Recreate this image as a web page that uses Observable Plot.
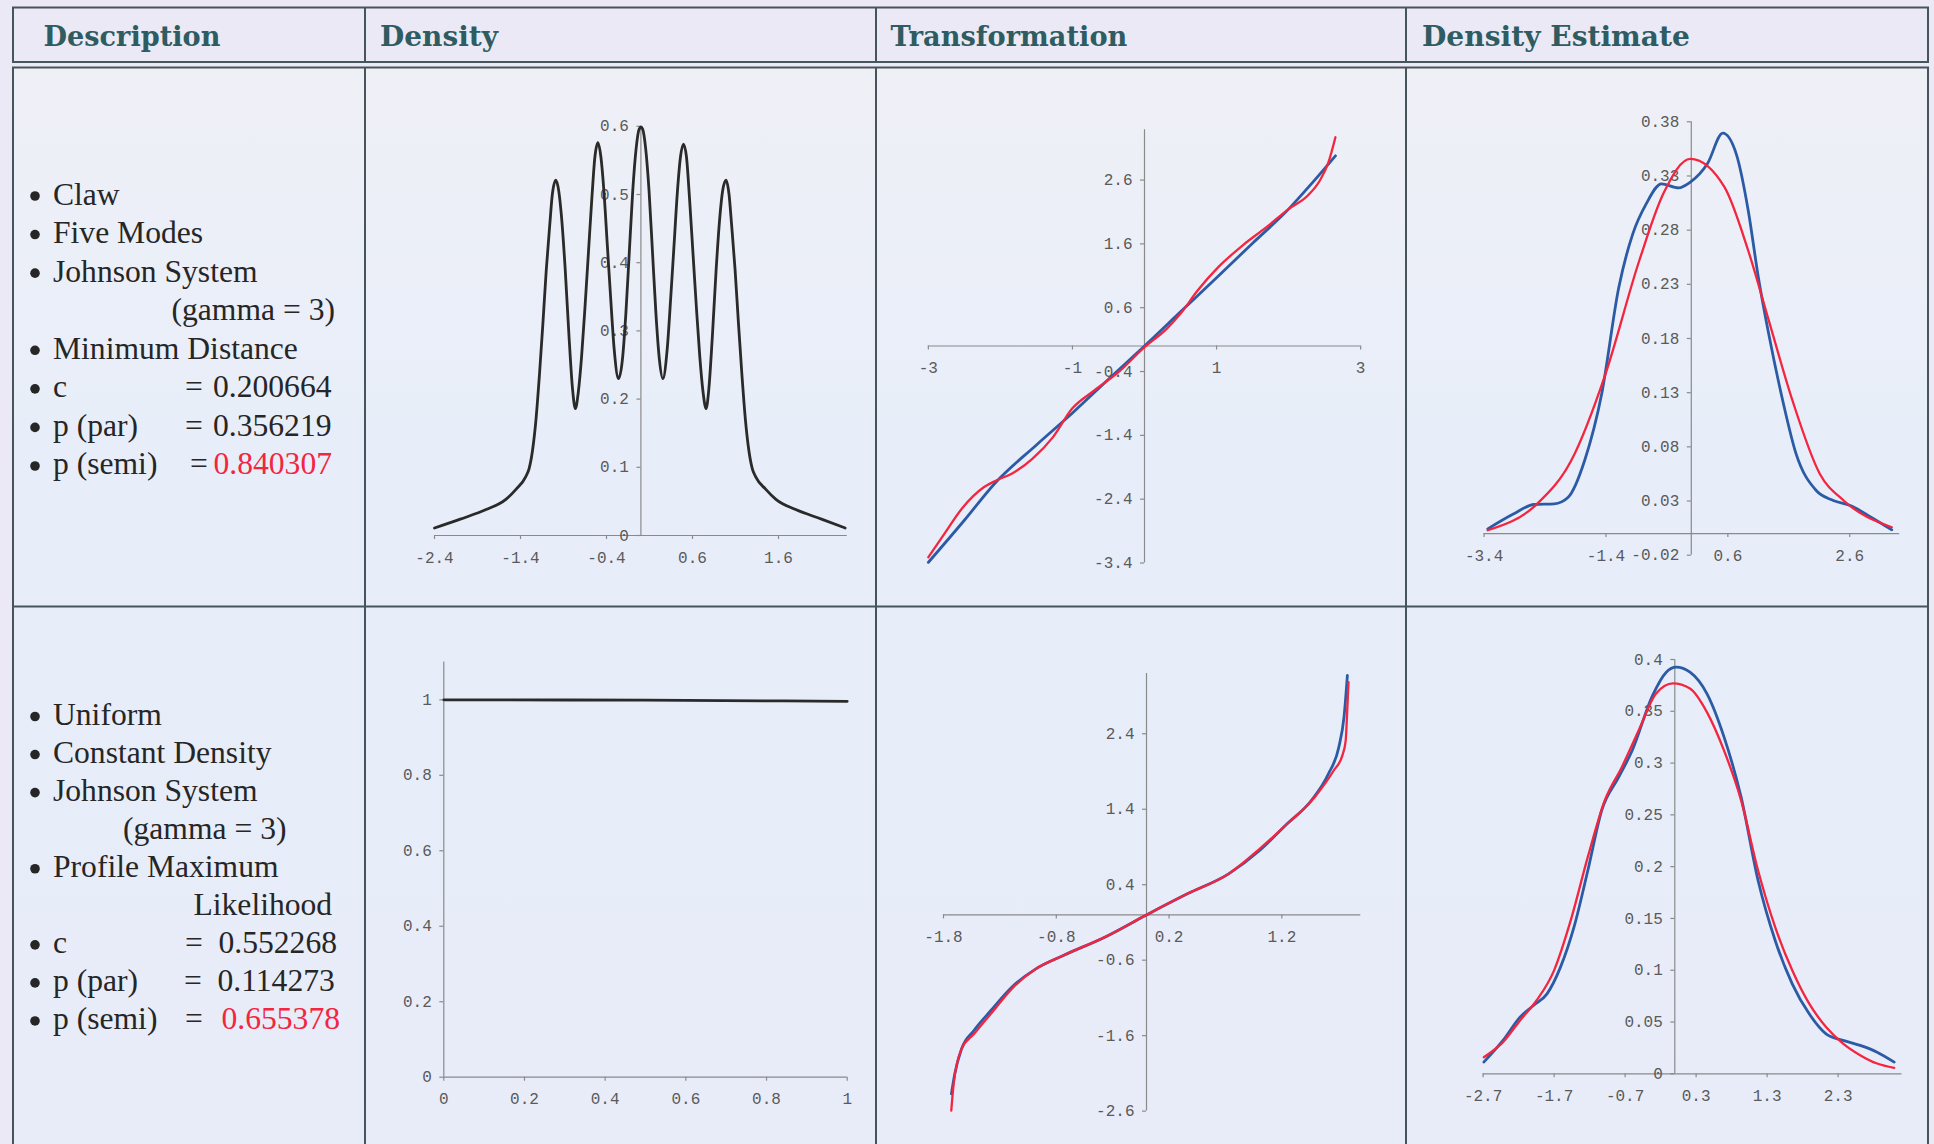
<!DOCTYPE html>
<html>
<head>
<meta charset="utf-8">
<script src="https://cdn.jsdelivr.net/npm/d3@7"></script>
<script src="https://cdn.jsdelivr.net/npm/@observablehq/plot@0.6"></script>
<style>
  html, body { margin: 0; padding: 0; }
  body { width: 1934px; height: 1144px; overflow: hidden; position: relative; background: #ebe9f5; }
  .cell { position: absolute; }
</style>
</head>
<body>
<script>
// ---------------- DATA ----------------
const headers = ["Description", "Density", "Transformation", "Density Estimate"];

const descLabels1 = ["Claw", "Five Modes", "Johnson System", "(gamma = 3)", "Minimum Distance", "c", "p (par)", "p (semi)"];
const descValues1 = ["0.200664", "0.356219", "0.840307"];
const descLabels2 = ["Uniform", "Constant Density", "Johnson System", "(gamma = 3)", "Profile Maximum", "Likelihood", "c", "p (par)", "p (semi)"];
const descValues2 = ["0.552268", "0.114273", "0.655378"];

// Row 1 – Claw density (x, density)
const clawDensity = [
  [-2.40,0.011],[-2.10,0.024],[-1.80,0.038],[-1.57,0.053],[-1.45,0.068],[-1.34,0.086],[-1.30,0.098],
  [-1.26,0.125],[-1.22,0.170],[-1.18,0.235],[-1.14,0.310],[-1.10,0.390],[-1.06,0.455],[-1.03,0.500],
  [-0.99,0.521],[-0.955,0.505],[-0.925,0.470],[-0.88,0.390],[-0.835,0.290],[-0.795,0.215],[-0.762,0.186],
  [-0.728,0.210],[-0.69,0.262],[-0.65,0.335],[-0.61,0.415],[-0.57,0.495],[-0.535,0.555],[-0.50,0.576],
  [-0.465,0.555],[-0.43,0.505],[-0.39,0.425],[-0.35,0.345],[-0.31,0.272],[-0.26,0.230],[-0.215,0.258],
  [-0.175,0.325],[-0.135,0.415],[-0.095,0.505],[-0.055,0.568],[-0.02,0.596],[0.0,0.599],[0.02,0.596],
  [0.055,0.568],[0.095,0.505],[0.135,0.415],[0.175,0.325],[0.215,0.258],[0.255,0.230],[0.305,0.272],
  [0.345,0.345],[0.385,0.425],[0.425,0.505],[0.46,0.555],[0.495,0.574],[0.53,0.555],[0.565,0.495],
  [0.605,0.415],[0.645,0.335],[0.685,0.262],[0.723,0.210],[0.758,0.186],[0.79,0.215],[0.83,0.290],
  [0.875,0.390],[0.92,0.470],[0.95,0.505],[0.99,0.521],[1.025,0.500],[1.055,0.455],[1.095,0.390],
  [1.135,0.310],[1.175,0.235],[1.215,0.170],[1.255,0.125],[1.295,0.098],[1.335,0.086],[1.45,0.068],
  [1.57,0.053],[1.80,0.038],[2.10,0.024],[2.375,0.011]
];
// Row 1 – transformation (blue = parametric, red = semiparametric)
const trans1Blue = [
  [-3.0,-3.39],[-2.5,-2.73],[-2.06,-2.13],[-1.5,-1.55],[-1.0,-1.05],[-0.5,-0.52],[0,0],
  [0.5,0.535],[1.0,1.07],[1.5,1.61],[2.0,2.145],[2.3,2.52],[2.65,2.98]
];
const trans1Red = [
  [-3.0,-3.31],[-2.776,-2.94],[-2.536,-2.55],[-2.226,-2.21],[-2.058,-2.107],[-1.843,-2.0],[-1.557,-1.768],
  [-1.27,-1.428],[-1.007,-0.984],[-0.697,-0.697],[-0.362,-0.41],[0.0,-0.018],[0.307,0.269],[0.498,0.504],
  [0.737,0.869],[1.024,1.235],[1.359,1.574],[1.693,1.862],[2.004,2.149],[2.267,2.358],[2.434,2.593],
  [2.554,2.88],[2.65,3.27]
];
// Row 1 – density estimates
const est1Blue = [
  [-3.34,0.0043],[-2.92,0.018],[-2.58,0.0268],[-2.25,0.0274],[-2.02,0.0335],[-1.75,0.0674],[-1.47,0.129],
  [-1.19,0.227],[-0.96,0.2766],[-0.74,0.3043],[-0.49,0.3228],[-0.21,0.319],[-0.015,0.3243],[0.264,0.3412],
  [0.517,0.3695],[0.74,0.350],[0.935,0.298],[1.10,0.2366],[1.27,0.1843],[1.50,0.1228],[1.72,0.0735],
  [2.05,0.0397],[2.33,0.0305],[2.61,0.0258],[2.95,0.0151],[3.29,0.0034]
];
const est1Red = [
  [-3.34,0.003],[-2.53,0.0274],[-1.97,0.0674],[-1.41,0.147],[-0.853,0.252],[-0.46,0.3135],[-0.015,0.3458],
  [0.545,0.3197],[0.935,0.261],[1.27,0.197],[1.66,0.1228],[2.11,0.055],[2.5,0.0305],[3.29,0.0058]
];
// Row 2 – uniform density
const uniformDensity = [[0,1.0],[0.5,0.999],[1,0.996]];
// Row 2 – transformation
const trans2Blue = [
  [-1.73,-2.372],[-1.70,-2.106],[-1.64,-1.775],[-1.53,-1.532],[-1.38,-1.267],[-1.195,-0.958],[-0.981,-0.715],
  [-0.738,-0.538],[-0.37,-0.295],[0,0],[0.362,0.279],[0.728,0.544],[1.003,0.853],[1.247,1.207],[1.461,1.516],
  [1.613,1.869],[1.705,2.222],[1.751,2.62],[1.781,3.172]
];
const trans2Red = [
  [-1.731,-2.593],[-1.71,-2.239],[-1.64,-1.775],[-1.53,-1.577],[-1.38,-1.311],[-1.195,-0.98],[-0.981,-0.715],
  [-0.738,-0.538],[-0.37,-0.295],[0,0],[0.362,0.279],[0.728,0.544],[1.003,0.875],[1.216,1.163],[1.491,1.56],
  [1.66,1.913],[1.736,2.111],[1.766,2.31],[1.781,2.752],[1.791,3.084]
];
// Row 2 – density estimates
const est2Blue = [
  [-2.69,0.0113],[-2.42,0.0322],[-2.18,0.0547],[-1.99,0.066],[-1.80,0.0772],[-1.61,0.103],[-1.42,0.1416],
  [-1.225,0.1963],[-1.03,0.2542],[-0.79,0.2864],[-0.60,0.3121],[-0.314,0.3652],[-0.12,0.3878],[0.02,0.3926],
  [0.214,0.3878],[0.454,0.3668],[0.694,0.325],[0.934,0.2671],[1.173,0.1866],[1.414,0.1287],[1.654,0.0869],
  [1.893,0.0579],[2.13,0.0386],[2.37,0.0322],[2.61,0.0274],[2.85,0.0209],[3.09,0.0113]
];
const est2Red = [
  [-2.69,0.016],[-2.42,0.0306],[-2.18,0.0515],[-1.945,0.071],[-1.70,0.0999],[-1.465,0.1483],[-1.225,0.2094],
  [-0.985,0.2641],[-0.745,0.2963],[-0.506,0.332],[-0.266,0.367],[-0.025,0.377],[0.214,0.372],[0.454,0.349],
  [0.694,0.312],[0.934,0.264],[1.173,0.1963],[1.414,0.1416],[1.654,0.0999],[1.893,0.0677],[2.13,0.0452],
  [2.37,0.0292],[2.61,0.018],[2.85,0.0099],[3.09,0.0058]
];

// tick values
const ticksA = {x: [-2.4,-1.4,-0.4,0.6,1.6], y: [0,0.1,0.2,0.3,0.4,0.5,0.6]};
const ticksB = {x: [-3,-1,1,3], y: [2.6,1.6,0.6,-0.4,-1.4,-2.4,-3.4]};
const ticksC = {x: [-3.4,-1.4,0.6,2.6], y: [0.38,0.33,0.28,0.23,0.18,0.13,0.08,0.03,-0.02]};
const ticksD = {x: [0,0.2,0.4,0.6,0.8,1], y: [0,0.2,0.4,0.6,0.8,1]};
const ticksE = {x: [-1.8,-0.8,0.2,1.2], y: [2.4,1.4,0.4,-0.6,-1.6,-2.6]};
const ticksF = {x: [-2.7,-1.7,-0.7,0.3,1.3,2.3], y: [0,0.05,0.1,0.15,0.2,0.25,0.3,0.35,0.4]};

// ---------------- LAYOUT / STYLE ----------------
const W = 1934, H = 1144;
const colX = [13, 365, 876, 1406, 1928];
const headTop = 7.5, headBot = 62, bodyTop = 67.5, rowDiv = 606.5;
const borderColor = "#46555b";
const BLUE = "#2c5ba6", RED = "#f3253f", INK = "#2a2a2a";
const AXIS = "#8a8a8a", TICKTXT = "#5a5a5a", MONO = "'Liberation Mono', 'Courier New', monospace";

const bg = d3.select("body").append("svg")
  .attr("width", W).attr("height", H)
  .style("position", "absolute").style("left", "0px").style("top", "0px");

const defs = bg.append("defs");
const grad = defs.append("linearGradient").attr("id", "bodyGrad").attr("x1", 0).attr("y1", 0).attr("x2", 0).attr("y2", 1);
grad.append("stop").attr("offset", "0%").attr("stop-color", "#eff0f6");
grad.append("stop").attr("offset", "30%").attr("stop-color", "#e8eef9");
grad.append("stop").attr("offset", "100%").attr("stop-color", "#e7ecf8");

// header box
bg.append("rect").attr("x", colX[0]).attr("y", headTop).attr("width", colX[4] - colX[0]).attr("height", headBot - headTop)
  .attr("fill", "#ece9f7").attr("stroke", borderColor).attr("stroke-width", 2);
colX.slice(1, 4).forEach(x => bg.append("line").attr("x1", x).attr("x2", x).attr("y1", headTop).attr("y2", headBot)
  .attr("stroke", borderColor).attr("stroke-width", 2));
// body box
bg.append("rect").attr("x", colX[0]).attr("y", bodyTop).attr("width", colX[4] - colX[0]).attr("height", 1200)
  .attr("fill", "url(#bodyGrad)").attr("stroke", borderColor).attr("stroke-width", 2);
colX.slice(1, 4).forEach(x => bg.append("line").attr("x1", x).attr("x2", x).attr("y1", bodyTop).attr("y2", H + 10)
  .attr("stroke", borderColor).attr("stroke-width", 2));
bg.append("line").attr("x1", colX[0]).attr("x2", colX[4]).attr("y1", rowDiv).attr("y2", rowDiv)
  .attr("stroke", borderColor).attr("stroke-width", 2);

// header texts, fitted to the reference widths
const headX = [43.5, 380, 890.5, 1422];
const headW = [177, 118, 237, 268];
const ctx = document.createElement("canvas").getContext("2d");
const HFONT = "'DejaVu Serif', serif";
headers.forEach((h, i) => {
  ctx.font = `bold 26px ${HFONT}`;
  const w = ctx.measureText(h).width || headW[i];
  let fs = 26 * headW[i] / w;
  fs = Math.max(22, Math.min(30, fs));
  bg.append("text").attr("x", headX[i]).attr("y", 46).text(h)
    .attr("font-family", HFONT).attr("font-weight", "bold").attr("font-size", fs).attr("fill", "#2f5c61");
});

// description column
const SERIF = "'Liberation Serif', 'Times New Roman', serif";
function drawDesc(labels, values, base0, step, cont, eqX, valX) {
  const g = bg.append("g").attr("font-family", SERIF).attr("font-size", 31.6).attr("fill", "#262626");
  labels.forEach((t, i) => {
    const y = base0 + i * step;
    if (cont[i] != null) {
      g.append("text").attr("x", cont[i]).attr("y", y).text(t);
    } else {
      g.append("circle").attr("cx", 35).attr("cy", y - 8.5).attr("r", 4.8).attr("fill", "#262626");
      g.append("text").attr("x", 53).attr("y", y).text(t);
    }
  });
  values.forEach((v, j) => {
    const i = labels.length - values.length + j;
    const y = base0 + i * step;
    g.append("text").attr("x", eqX[j]).attr("y", y).text("=");
    g.append("text").attr("x", valX[j]).attr("y", y).text(v)
      .attr("fill", j === values.length - 1 ? RED : "#262626");
  });
}
drawDesc(descLabels1, descValues1, 204.5, 38.57, {3: 171.5}, [185, 185, 190], [213, 213, 213.5]);
drawDesc(descLabels2, descValues2, 725, 38.06, {3: 123, 5: 193.5}, [185, 184, 185], [218.5, 217.5, 221.5]);

// ---------------- CHARTS ----------------
function chart(cfg) {
  const [L, T, Wd, Ht] = cfg.box;
  const marginLeft = cfg.xp[0] - L, marginRight = L + Wd - cfg.xp[1];
  const marginTop = cfg.yp[1] - T, marginBottom = T + Ht - cfg.yp[0];
  const fmt = d => String(d);
  const marks = [
    Plot.ruleY([0], {x1: cfg.xAxis[0], x2: cfg.xAxis[1], stroke: AXIS, strokeWidth: 1.2}),
    Plot.ruleX([0], {y1: cfg.yAxis[0], y2: cfg.yAxis[1], stroke: AXIS, strokeWidth: 1.2}),
    Plot.ruleX(cfg.ticks.x, {x: d => d, y1: 0, y2: 0, insetBottom: -4, stroke: AXIS, strokeWidth: 1.2}),
    Plot.ruleY(cfg.ticks.y, {y: d => d, x1: 0, x2: 0, insetLeft: -4, stroke: AXIS, strokeWidth: 1.2}),
    Plot.text(cfg.ticks.x, {x: d => d, y: 0, text: fmt, dy: 22, fontFamily: MONO, fontSize: 16, fill: TICKTXT}),
    Plot.text(cfg.ticks.y, {x: 0, y: d => d, text: fmt, dx: -12, textAnchor: "end", fontFamily: MONO, fontSize: 16, fill: TICKTXT}),
    ...cfg.series.map(s => Plot.line(s.data, {
      x: d => d[0], y: d => d[1], curve: "monotone-x",
      stroke: s.color, strokeWidth: s.width, strokeLinejoin: "round", strokeLinecap: "round"
    }))
  ];
  const svg = Plot.plot({
    width: Wd, height: Ht,
    marginLeft, marginRight, marginTop, marginBottom,
    x: {domain: cfg.xd, axis: null},
    y: {domain: cfg.yd, axis: null},
    style: {background: "transparent", overflow: "visible"},
    marks
  });
  const div = document.createElement("div");
  div.className = "cell";
  div.style.left = L + "px";
  div.style.top = T + "px";
  div.style.width = Wd + "px";
  div.style.height = Ht + "px";
  div.appendChild(svg);
  document.body.appendChild(div);
}

const row1 = [68, 538], row2 = [607, 537];
const colA = [366, 510], colB = [877, 529], colC = [1407, 521];

// A: claw density
chart({
  box: [colA[0], row1[0], colA[1], row1[1]],
  xd: [-2.4, 2.4], xp: [434, 846.8], yd: [0, 0.6], yp: [535, 125.8],
  xAxis: [-2.4, 2.4], yAxis: [0, 0.6], ticks: ticksA,
  series: [{data: clawDensity, color: INK, width: 2.8}]
});
// B: transformation 1
chart({
  box: [colB[0], row1[0], colB[1], row1[1]],
  xd: [-3, 3], xp: [927.85, 1360.15], yd: [-3.4, 3.4], yp: [562.5, 128.5],
  xAxis: [-3, 3], yAxis: [-3.4, 3.39], ticks: ticksB,
  series: [{data: trans1Blue, color: BLUE, width: 2.8}, {data: trans1Red, color: RED, width: 2.3}]
});
// C: density estimate 1
chart({
  box: [colC[0], row1[0], colC[1], row1[1]],
  xd: [-3.4, 3.42], xp: [1483.6, 1899.2], yd: [-0.02, 0.38], yp: [554.7, 121.3],
  xAxis: [-3.4, 3.42], yAxis: [-0.02, 0.38], ticks: ticksC,
  series: [{data: est1Blue, color: BLUE, width: 2.8}, {data: est1Red, color: RED, width: 2.3}]
});
// D: uniform density
chart({
  box: [colA[0], row2[0], colA[1], row2[1]],
  xd: [0, 1], xp: [443.3, 846.7], yd: [0, 1.1], yp: [1076.7, 661.6],
  xAxis: [0, 1], yAxis: [0, 1.1], ticks: ticksD,
  series: [{data: uniformDensity, color: INK, width: 2.8}]
});
// E: transformation 2
chart({
  box: [colB[0], row2[0], colB[1], row2[1]],
  xd: [-1.8, 1.9], xp: [943, 1360.3], yd: [-2.6, 3.2], yp: [1110.6, 672.9],
  xAxis: [-1.8, 1.9], yAxis: [-2.6, 3.2], ticks: ticksE,
  series: [{data: trans2Blue, color: BLUE, width: 2.8}, {data: trans2Red, color: RED, width: 2.3}]
});
// F: density estimate 2
chart({
  box: [colC[0], row2[0], colC[1], row2[1]],
  xd: [-2.7, 3.2], xp: [1482.6, 1901.5], yd: [0, 0.4], yp: [1073.3, 659],
  xAxis: [-2.7, 3.2], yAxis: [0, 0.4], ticks: ticksF,
  series: [{data: est2Blue, color: BLUE, width: 2.8}, {data: est2Red, color: RED, width: 2.3}]
});
</script>
</body>
</html>
